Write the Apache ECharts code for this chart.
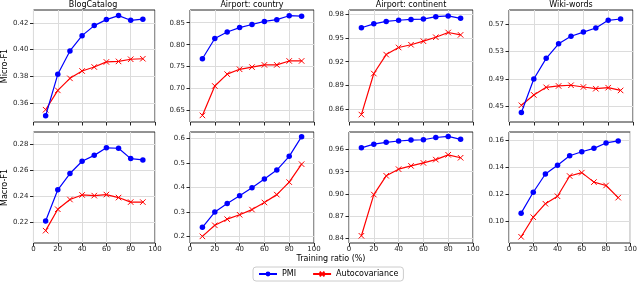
<!DOCTYPE html>
<html><head><meta charset="utf-8">
<script src="https://cdn.jsdelivr.net/npm/echarts@6/dist/echarts.min.js"></script>
<style>html,body{margin:0;padding:0;background:#fff}#c{width:640px;height:283px}</style>
</head><body><div id="c"></div>
<script>
// ---- data ----
const trainingRatio = [10, 20, 30, 40, 50, 60, 70, 80, 90];
const xTicks = [0, 20, 40, 60, 80, 100];
const panelTitles = ['BlogCatalog', 'Airport: country', 'Airport: continent', 'Wiki-words'];
const rowLabels = ['Micro-F1', 'Macro-F1'];
const xLabel = 'Training ratio (%)';
const seriesNames = ['PMI', 'Autocovariance'];

// Micro-F1 (top row)
const blogMicroPMI = [0.3505, 0.3815, 0.399, 0.4105, 0.418, 0.4225, 0.4255, 0.422, 0.4228];
const blogMicroAuto = [0.355, 0.3695, 0.3785, 0.384, 0.387, 0.3908, 0.3912, 0.3928, 0.3932];
const countryMicroPMI = [0.768, 0.814, 0.829, 0.839, 0.846, 0.853, 0.857, 0.866, 0.865];
const countryMicroAuto = [0.639, 0.706, 0.733, 0.744, 0.749, 0.754, 0.754, 0.763, 0.763];
const continentMicroPMI = [0.963, 0.968, 0.971, 0.9725, 0.9735, 0.974, 0.977, 0.978, 0.975];
const continentMicroAuto = [0.853, 0.905, 0.929, 0.938, 0.9415, 0.946, 0.951, 0.957, 0.954];
const wikiMicroPMI = [0.4415, 0.490, 0.520, 0.541, 0.552, 0.558, 0.564, 0.575, 0.577];
const wikiMicroAuto = [0.452, 0.467, 0.478, 0.480, 0.481, 0.4785, 0.476, 0.4775, 0.4735];

// Macro-F1 (bottom row)
const blogMacroPMI = [0.221, 0.245, 0.2575, 0.267, 0.2715, 0.2773, 0.277, 0.269, 0.268];
const blogMacroAuto = [0.2135, 0.230, 0.2375, 0.241, 0.2405, 0.2413, 0.239, 0.2355, 0.2355];
const countryMacroPMI = [0.238, 0.300, 0.335, 0.366, 0.399, 0.435, 0.471, 0.527, 0.607];
const countryMacroAuto = [0.201, 0.246, 0.271, 0.289, 0.310, 0.339, 0.371, 0.422, 0.495];
const continentMacroPMI = [0.9625, 0.9675, 0.970, 0.9718, 0.973, 0.9735, 0.9765, 0.978, 0.974];
const continentMacroAuto = [0.843, 0.899, 0.9245, 0.9335, 0.938, 0.942, 0.9465, 0.953, 0.949];
const wikiMacroPMI = [0.106, 0.1215, 0.135, 0.1415, 0.1485, 0.1515, 0.154, 0.158, 0.1595];
const wikiMacroAuto = [0.0885, 0.103, 0.113, 0.1185, 0.1335, 0.136, 0.129, 0.1265, 0.1175];

// y tick labels
const blogMicroTicks = ['0.36', '0.38', '0.40', '0.42'];
const countryMicroTicks = ['0.65', '0.70', '0.75', '0.80', '0.85'];
const continentMicroTicks = ['0.86', '0.89', '0.92', '0.95', '0.98'];
const wikiMicroTicks = ['0.45', '0.49', '0.53', '0.57'];
const blogMacroTicks = ['0.22', '0.24', '0.26', '0.28'];
const countryMacroTicks = ['0.2', '0.3', '0.4', '0.5', '0.6'];
const continentMacroTicks = ['0.84', '0.87', '0.90', '0.93', '0.96'];
const wikiMacroTicks = ['0.10', '0.12', '0.14', '0.16'];

// ---- panels ----
const panels = [
  { pmi: blogMicroPMI, auto: blogMicroAuto, ticks: blogMicroTicks, min: 0.3458, max: 0.4297 },
  { pmi: countryMicroPMI, auto: countryMicroAuto, ticks: countryMicroTicks, min: 0.624, max: 0.879 },
  { pmi: continentMicroPMI, auto: continentMicroAuto, ticks: continentMicroTicks, min: 0.8436, max: 0.9855 },
  { pmi: wikiMicroPMI, auto: wikiMicroAuto, ticks: wikiMicroTicks, min: 0.4278, max: 0.590 },
  { pmi: blogMacroPMI, auto: blogMacroAuto, ticks: blogMacroTicks, min: 0.204, max: 0.2895 },
  { pmi: countryMacroPMI, auto: countryMacroAuto, ticks: countryMacroTicks, min: 0.174, max: 0.626 },
  { pmi: continentMacroPMI, auto: continentMacroAuto, ticks: continentMacroTicks, min: 0.8332, max: 0.984 },
  { pmi: wikiMacroPMI, auto: wikiMacroAuto, ticks: wikiMacroTicks, min: 0.0839, max: 0.1661 }
];

const FONT = 'DejaVu Sans';
const lefts = [31, 190, 349, 509];
const W = 124;
const rowTop = [10, 132];
const rowH = [112, 111];
const BLUE = '#0000ff', RED = '#ff0000';
const XSYM = 'path://M0,0L10,10M10,0L0,10';
const INK = '#262626';

const grid = [], xAxis = [], yAxis = [], series = [];
panels.forEach((p, i) => {
  const r = Math.floor(i / 4), c = i % 4;
  grid.push({ left: lefts[c], top: rowTop[r], width: W, height: rowH[r], show: true,
    borderColor: INK, borderWidth: 1, backgroundColor: 'transparent', containLabel: false });
  xAxis.push({ type: 'value', gridIndex: i, min: xTicks[0], max: xTicks[xTicks.length - 1], interval: 20,
    axisLine: { show: false },
    axisTick: { show: true, inside: false, length: 3.5, lineStyle: { color: INK } },
    axisLabel: { show: r === 1, fontSize: 7, color: INK, fontFamily: FONT, margin: 3 },
    splitLine: { show: true, lineStyle: { color: '#dcdcdc', width: 1 } } });
  const tickVals = p.ticks.map(Number);
  const dec = p.ticks[0].split('.')[1].length;
  const ya = { type: 'value', gridIndex: i, min: p.min, max: p.max,
    axisLine: { show: false },
    axisTick: { show: true, inside: false, length: 3.5, customValues: tickVals, lineStyle: { color: INK } },
    axisLabel: { show: true, fontSize: 7, color: INK, fontFamily: FONT, margin: 5,
      customValues: tickVals, formatter: v => Number(v).toFixed(dec) },
    splitLine: { show: true, lineStyle: { color: '#dcdcdc', width: 1 } } };
  if (c === 0) {
    Object.assign(ya, { name: rowLabels[r], nameLocation: 'middle', nameRotate: 90, nameGap: 23,
      nameTextStyle: { fontSize: 8, fontFamily: FONT, color: '#000' } });
  }
  yAxis.push(ya);
  series.push({ name: seriesNames[0], type: 'line', xAxisIndex: i, yAxisIndex: i,
    data: trainingRatio.map((x, k) => [x, p.pmi[k]]),
    symbol: 'circle', symbolSize: 5.5, showSymbol: true,
    lineStyle: { color: BLUE, width: 1.2 }, itemStyle: { color: BLUE },
    animation: false, z: 3 });
  series.push({ name: seriesNames[1], type: 'line', xAxisIndex: i, yAxisIndex: i,
    data: trainingRatio.map((x, k) => [x, p.auto[k]]),
    symbol: XSYM, symbolSize: 5.5, showSymbol: true,
    lineStyle: { color: RED, width: 1.2 },
    itemStyle: { color: RED, borderColor: RED, borderWidth: 1 },
    animation: false, z: 2 });
});

const graphic = [];
panelTitles.forEach((t, c) => {
  graphic.push({ type: 'text', x: lefts[c] + W / 2, y: 4.5,
    style: { text: t, fontSize: 8, fontFamily: FONT, fill: '#000', align: 'center', verticalAlign: 'middle' } });
});
graphic.push({ type: 'text', x: 331, y: 259,
  style: { text: xLabel, fontSize: 8, fontFamily: FONT, fill: '#000', align: 'center', verticalAlign: 'middle' } });

const chart = echarts.init(document.getElementById('c'), null, { renderer: 'canvas' });
chart.setOption({
  animation: false,
  backgroundColor: '#fff',
  grid, xAxis, yAxis, series, graphic,
  legend: {
    data: seriesNames, left: 253, top: 267,
    padding: [3, 5, 3, 5], itemWidth: 18, itemHeight: 6, itemGap: 16,
    borderColor: '#cccccc', borderWidth: 1, borderRadius: 3,
    textStyle: { fontSize: 8, fontFamily: FONT, color: '#000' }
  }
});
</script>
</body></html>
